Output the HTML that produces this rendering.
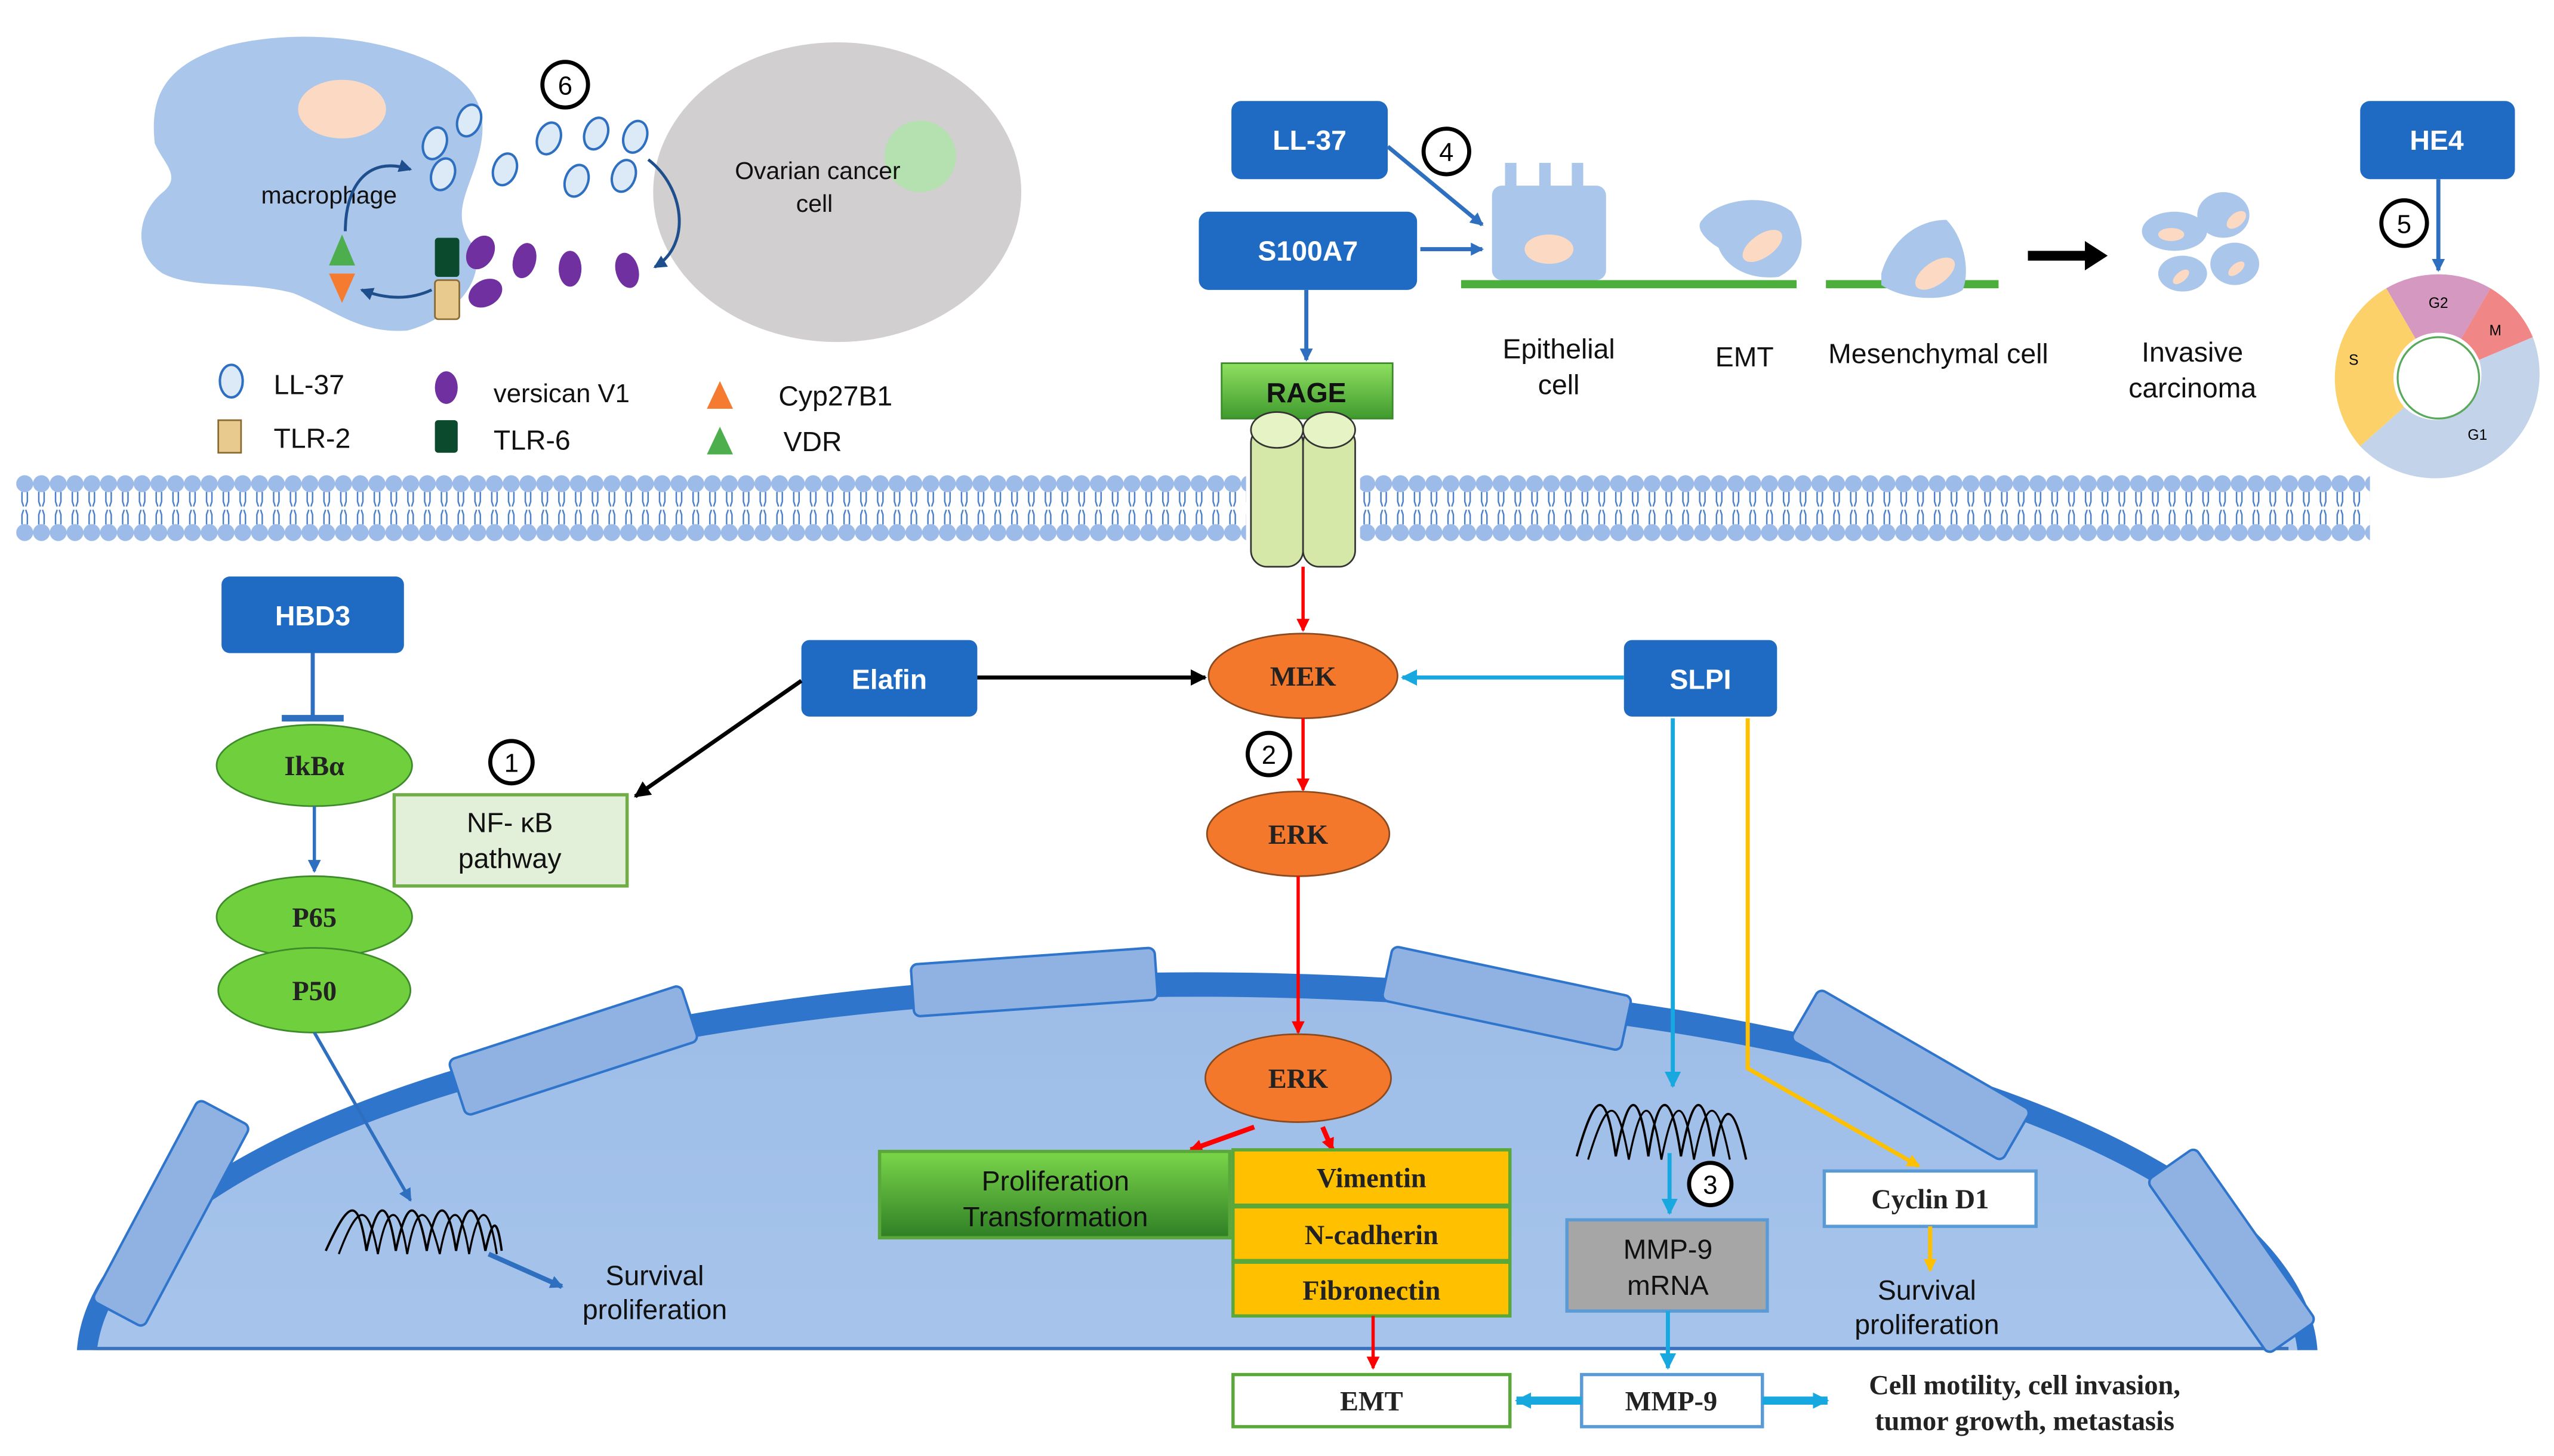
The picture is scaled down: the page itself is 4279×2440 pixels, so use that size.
<!DOCTYPE html>
<html><head><meta charset="utf-8"><style>
html,body{margin:0;padding:0;background:#fff;overflow:hidden;width:4279px;height:2440px;}
svg{display:block;}
text{font-family:"Liberation Sans",sans-serif;}
.bx{font-family:"Liberation Sans",sans-serif;font-weight:bold;fill:#fff;font-size:17px;text-anchor:middle;}
.sr{font-family:"Liberation Serif",serif;font-weight:bold;font-size:17px;text-anchor:middle;fill:#222;}
.lb{font-size:17px;text-anchor:middle;fill:#111;}
</style></head><body>
<svg width="4279" height="2440" viewBox="0 0 1568 894" preserveAspectRatio="none" xmlns="http://www.w3.org/2000/svg">
<defs>
<marker id="ab" markerWidth="8" markerHeight="8" refX="7" refY="4" orient="auto" markerUnits="userSpaceOnUse"><path d="M0,0 L8,4 L0,8z" fill="#2e6fc0"/></marker>
<marker id="ar" markerWidth="8" markerHeight="8" refX="7" refY="4" orient="auto" markerUnits="userSpaceOnUse"><path d="M0,0 L8,4 L0,8z" fill="#f00"/></marker>
<marker id="ak" markerWidth="10" markerHeight="10" refX="9" refY="5" orient="auto" markerUnits="userSpaceOnUse"><path d="M0,0 L10,5 L0,10z" fill="#000"/></marker>
<marker id="ac" markerWidth="10" markerHeight="10" refX="9" refY="5" orient="auto" markerUnits="userSpaceOnUse"><path d="M0,0 L10,5 L0,10z" fill="#18a8e0"/></marker>
<marker id="ay" markerWidth="8" markerHeight="8" refX="7" refY="4" orient="auto" markerUnits="userSpaceOnUse"><path d="M0,0 L8,4 L0,8z" fill="#ffc000"/></marker>
<marker id="an" markerWidth="8" markerHeight="8" refX="7" refY="4" orient="auto" markerUnits="userSpaceOnUse"><path d="M0,0 L8,4 L0,8z" fill="#1f4e8c"/></marker>
<pattern id="mem" x="10" y="288" width="10.3" height="48" patternUnits="userSpaceOnUse">
<circle cx="5.15" cy="9" r="5.2" fill="#9dbbe8"/>
<circle cx="5.15" cy="39" r="5.2" fill="#9dbbe8"/>
<path d="M3.5,14 L3.5,20 L4.5,23 M6.8,14 L6.8,20 L5.8,23 M3.5,34 L3.5,28 L4.5,25 M6.8,34 L6.8,28 L5.8,25" stroke="#4a7fc8" stroke-width="0.9" fill="none"/>
</pattern>
<linearGradient id="nuc" x1="0" y1="0" x2="0" y2="1"><stop offset="0" stop-color="#9dbde8"/><stop offset="0.6" stop-color="#a9c6ec"/><stop offset="1" stop-color="#cddff3"/></linearGradient>
<linearGradient id="gr" x1="0" y1="0" x2="0" y2="1"><stop offset="0" stop-color="#7bd64a"/><stop offset="1" stop-color="#2f7f25"/></linearGradient>
<linearGradient id="rg" x1="0" y1="0" x2="0" y2="1"><stop offset="0" stop-color="#8fe060"/><stop offset="1" stop-color="#3f9a2e"/></linearGradient>
<clipPath id="cb"><rect x="0" y="0" width="1568" height="829"/></clipPath>
</defs>

<!-- macrophage -->
<path d="M95,88 C92,60 100,40 140,28 C180,18 230,22 265,38 C290,50 300,65 295,90 C290,115 275,130 290,150 C300,170 280,195 250,203 C220,205 205,190 180,180 C150,172 120,178 100,168 C80,155 85,130 100,118 C112,108 100,100 95,88z" fill="#aac6ea"/>
<ellipse cx="210" cy="67" rx="27" ry="18" fill="#fcd9c2"/>
<text x="202" y="125" font-size="15" text-anchor="middle" fill="#111">macrophage</text>
<!-- ovarian -->
<ellipse cx="514" cy="118" rx="113" ry="92" fill="#d1cfd0"/>
<circle cx="565" cy="96" r="22" fill="#b5e0b0"/>
<text x="502" y="110" font-size="15" text-anchor="middle" fill="#111">Ovarian cancer</text>
<text x="500" y="130" font-size="15" text-anchor="middle" fill="#111">cell</text>
<circle cx="347" cy="52" r="14" fill="#fff" stroke="#000" stroke-width="2.5"/><text x="347" y="58" font-size="16" text-anchor="middle">6</text>
<g fill="#dce9f7" stroke="#2e6fc0" stroke-width="1.5">
<ellipse cx="288" cy="74" rx="7" ry="10" transform="rotate(20 288 74)"/>
<ellipse cx="267" cy="88" rx="7" ry="10" transform="rotate(20 267 88)"/>
<ellipse cx="272" cy="107" rx="7" ry="10" transform="rotate(20 272 107)"/>
<ellipse cx="310" cy="104" rx="7" ry="10" transform="rotate(20 310 104)"/>
<ellipse cx="337" cy="85" rx="7" ry="10" transform="rotate(20 337 85)"/>
<ellipse cx="366" cy="82" rx="7" ry="10" transform="rotate(20 366 82)"/>
<ellipse cx="390" cy="84" rx="7" ry="10" transform="rotate(20 390 84)"/>
<ellipse cx="354" cy="111" rx="7" ry="10" transform="rotate(20 354 111)"/>
<ellipse cx="383" cy="108" rx="7" ry="10" transform="rotate(20 383 108)"/>
</g>
<g fill="#7030a0">
<ellipse cx="295" cy="155" rx="8" ry="11" transform="rotate(30 295 155)"/>
<ellipse cx="322" cy="160" rx="7" ry="11" transform="rotate(15 322 160)"/>
<ellipse cx="350" cy="165" rx="7" ry="11"/>
<ellipse cx="385" cy="166" rx="7" ry="11" transform="rotate(-15 385 166)"/>
<ellipse cx="298" cy="180" rx="8" ry="11" transform="rotate(60 298 180)"/>
</g>
<rect x="267" y="146" width="15" height="24" rx="2" fill="#0b4a2d"/>
<rect x="267" y="172" width="15" height="24" rx="2" fill="#e8c98e" stroke="#8a6a30"/>
<path d="M210,144 L218,163 L202,163z" fill="#4cae4c"/>
<path d="M202,168 L218,168 L210,186z" fill="#f47b30"/>
<path d="M212,142 C212,115 225,95 252,104" stroke="#1f4e8c" stroke-width="1.8" fill="none" marker-end="url(#an)"/>
<path d="M265,178 C250,185 235,183 222,178" stroke="#1f4e8c" stroke-width="1.8" fill="none" marker-end="url(#an)"/>
<path d="M398,98 C420,115 425,150 402,164" stroke="#1f4e8c" stroke-width="1.8" fill="none" marker-end="url(#an)"/>
<!-- legend -->
<ellipse cx="142" cy="234" rx="7" ry="10" fill="#dce9f7" stroke="#2e6fc0" stroke-width="1.5"/>
<text x="168" y="242" font-size="17" fill="#111">LL-37</text>
<rect x="134" y="258" width="14" height="20" fill="#e8c98e" stroke="#8a6a30"/>
<text x="168" y="275" font-size="17" fill="#111">TLR-2</text>
<ellipse cx="274" cy="238" rx="7" ry="10" fill="#7030a0"/>
<text x="303" y="247" font-size="16" fill="#111">versican V1</text>
<rect x="267" y="258" width="14" height="20" rx="2" fill="#0b4a2d"/>
<text x="303" y="276" font-size="17" fill="#111">TLR-6</text>
<path d="M442,234 L450,251 L434,251z" fill="#f47b30"/>
<text x="478" y="249" font-size="17" fill="#111">Cyp27B1</text>
<path d="M442,262 L450,279 L434,279z" fill="#4cae4c"/>
<text x="481" y="277" font-size="17" fill="#111">VDR</text>

<!-- membrane -->
<rect x="10" y="288" width="755" height="48" fill="url(#mem)"/>
<rect x="835" y="288" width="620" height="48" fill="url(#mem)"/>

<!-- top right boxes -->
<rect x="756" y="62" width="96" height="48" rx="6" fill="#1f6bc4"/><text class="bx" x="804" y="92">LL-37</text>
<rect x="736" y="130" width="134" height="48" rx="6" fill="#1f6bc4"/><text class="bx" x="803" y="160">S100A7</text>
<rect x="1449" y="62" width="95" height="48" rx="6" fill="#1f6bc4"/><text class="bx" x="1496" y="92">HE4</text>
<circle cx="888" cy="93" r="14" fill="#fff" stroke="#000" stroke-width="2.5"/><text x="888" y="99" font-size="16" text-anchor="middle">4</text>
<circle cx="1476" cy="137" r="14" fill="#fff" stroke="#000" stroke-width="2.5"/><text x="1476" y="143" font-size="16" text-anchor="middle">5</text>
<line x1="852" y1="90" x2="910" y2="138" stroke="#2e6fc0" stroke-width="2.5" marker-end="url(#ab)"/>
<line x1="872" y1="153" x2="910" y2="153" stroke="#2e6fc0" stroke-width="2.5" marker-end="url(#ab)"/>
<line x1="802" y1="178" x2="802" y2="221" stroke="#2e6fc0" stroke-width="2.5" marker-end="url(#ab)"/>
<line x1="1497" y1="110" x2="1497" y2="166" stroke="#2e6fc0" stroke-width="2.5" marker-end="url(#ab)"/>
<rect x="897" y="172" width="206" height="5" fill="#4caf3c"/>
<rect x="1121" y="172" width="106" height="5" fill="#4caf3c"/>
<rect x="916" y="114" width="70" height="58" rx="6" fill="#aac6ea"/>
<rect x="924" y="100" width="7" height="16" fill="#aac6ea"/><rect x="945" y="100" width="7" height="16" fill="#aac6ea"/><rect x="965" y="100" width="7" height="16" fill="#aac6ea"/>
<ellipse cx="951" cy="153" rx="15" ry="9" fill="#fcd9c2"/>
<path d="M1045,135 C1055,122 1085,118 1100,130 C1110,145 1108,162 1092,170 C1075,172 1060,165 1055,152 C1048,148 1040,140 1045,135z" fill="#aac6ea"/>
<ellipse cx="1082" cy="151" rx="14" ry="7" transform="rotate(-35 1082 151)" fill="#fcd9c2"/>
<path d="M1155,168 C1160,150 1175,135 1195,135 C1205,145 1210,165 1205,178 C1195,185 1170,185 1155,175z" fill="#aac6ea"/>
<ellipse cx="1188" cy="168" rx="14" ry="7" transform="rotate(-35 1188 168)" fill="#fcd9c2"/>
<line x1="1245" y1="157" x2="1282" y2="157" stroke="#000" stroke-width="6"/><path d="M1280,148 L1294,157 L1280,166z" fill="#000"/>
<g fill="#aac6ea"><ellipse cx="1335" cy="142" rx="20" ry="12"/><ellipse cx="1365" cy="132" rx="16" ry="14"/><ellipse cx="1340" cy="168" rx="15" ry="11"/><ellipse cx="1372" cy="162" rx="15" ry="13"/></g>
<g fill="#fcd9c2"><ellipse cx="1333" cy="144" rx="8" ry="4"/><ellipse cx="1373" cy="135" rx="7" ry="4" transform="rotate(-40 1373 135)"/><ellipse cx="1339" cy="170" rx="6" ry="3" transform="rotate(-40 1339 170)"/><ellipse cx="1373" cy="165" rx="6" ry="3" transform="rotate(-40 1373 165)"/></g>
<text class="lb" x="957" y="220">Epithelial</text><text class="lb" x="957" y="242">cell</text>
<text class="lb" x="1071" y="225">EMT</text>
<text class="lb" x="1190" y="223">Mesenchymal cell</text>
<text class="lb" x="1346" y="222">Invasive</text><text class="lb" x="1346" y="244">carcinoma</text>
<g transform="translate(1497,232)">
<path d="M-32,-55 A64,64 0 0 1 32,-55 L14,-24 A28,28 0 0 0 -14,-24z" fill="#d598c0"/>
<path d="M32,-55 A64,64 0 0 1 58,-25 L25,-11 A28,28 0 0 0 14,-24z" fill="#f08686"/>
<path d="M58,-25 A64,64 0 0 1 -48,42 L-21,18 A28,28 0 0 0 25,-11z" fill="#c3d3ea"/>
<path d="M-48,42 A64,64 0 0 1 -32,-55 L-14,-24 A28,28 0 0 0 -21,18z" fill="#fdd16a"/>
<circle r="25" fill="#fff" stroke="#5aa85a" stroke-width="1.2"/>
<text x="0" y="-43" font-size="9" text-anchor="middle">G2</text>
<text x="35" y="-26" font-size="9" text-anchor="middle">M</text>
<text x="-52" y="-8" font-size="9" text-anchor="middle">S</text>
<text x="24" y="38" font-size="9" text-anchor="middle">G1</text>
</g>
<rect x="750" y="223" width="105" height="34" fill="url(#rg)" stroke="#3a8a2a"/>
<text x="802" y="247" font-size="17" font-weight="bold" text-anchor="middle" fill="#111">RAGE</text>
<rect x="768" y="262" width="32" height="86" rx="10" fill="#d5e8a8" stroke="#333"/>
<rect x="800" y="262" width="32" height="86" rx="10" fill="#d5e8a8" stroke="#333"/>
<ellipse cx="784" cy="264" rx="16" ry="11" fill="#e6f3c4" stroke="#333"/>
<ellipse cx="816" cy="264" rx="16" ry="11" fill="#e6f3c4" stroke="#333"/>

<!-- nucleus -->
<g clip-path="url(#cb)">
<ellipse cx="735" cy="835" rx="688" ry="238" fill="#2f75cc"/>
<ellipse cx="735" cy="838" rx="676" ry="226" fill="url(#nuc)"/>
</g>
<line x1="57" y1="828" x2="1405" y2="828" stroke="#3a72c0" stroke-width="2"/>
<g fill="#8fb2e2" stroke="#2f75cc" stroke-width="1.5">
<rect x="-70" y="-18" width="140" height="36" rx="4" transform="translate(105,745) rotate(-62)"/>
<rect x="-75" y="-18" width="150" height="36" rx="4" transform="translate(352,645) rotate(-18)"/>
<rect x="-75" y="-16" width="150" height="32" rx="4" transform="translate(635,603) rotate(-4)"/>
<rect x="-75" y="-17" width="150" height="34" rx="4" transform="translate(925,613) rotate(12)"/>
<rect x="-75" y="-18" width="150" height="36" rx="4" transform="translate(1173,660) rotate(30)"/>
<rect x="-65" y="-18" width="130" height="36" rx="4" transform="translate(1370,768) rotate(55)"/>
</g>

<!-- left pathway -->
<rect x="136" y="354" width="112" height="47" rx="5" fill="#1f6bc4"/><text class="bx" x="192" y="384">HBD3</text>
<line x1="192" y1="401" x2="192" y2="441" stroke="#2e6fc0" stroke-width="2.5"/>
<line x1="173" y1="441" x2="211" y2="441" stroke="#2e6fc0" stroke-width="4"/>
<ellipse cx="193" cy="470" rx="60" ry="25" fill="#6fcf3c" stroke="#3d8a2a"/>
<text class="sr" x="193" y="476">IkBα</text>
<line x1="193" y1="495" x2="193" y2="535" stroke="#2e6fc0" stroke-width="2" marker-end="url(#ab)"/>
<ellipse cx="193" cy="563" rx="60" ry="25" fill="#6fcf3c" stroke="#3d8a2a"/>
<text class="sr" x="193" y="569">P65</text>
<ellipse cx="193" cy="608" rx="59" ry="26" fill="#6fcf3c" stroke="#3d8a2a"/>
<text class="sr" x="193" y="614">P50</text>
<rect x="242" y="488" width="143" height="56" fill="#e2f0d9" stroke="#70ad47" stroke-width="2"/>
<text class="lb" x="313" y="511">NF- κB</text><text class="lb" x="313" y="533">pathway</text>
<circle cx="314" cy="468" r="13" fill="#fff" stroke="#000" stroke-width="2.5"/><text x="314" y="474" font-size="16" text-anchor="middle">1</text>
<line x1="193" y1="634" x2="252" y2="737" stroke="#2e6fc0" stroke-width="2" marker-end="url(#ab)"/>
<path d="M200,768 C215,735 220,735 225,768 C232,735 238,735 243,768 C250,735 256,735 262,768 C268,735 275,735 280,768 C286,735 292,735 298,768 C302,750 305,745 308,768" stroke="#000" stroke-width="1.4" fill="none"/>
<path d="M208,770 C220,738 226,738 232,770 C238,738 245,738 250,770 C256,738 262,738 270,770 C276,738 283,738 288,770 C294,738 300,738 305,770" stroke="#000" stroke-width="1.2" fill="none"/>
<line x1="300" y1="770" x2="345" y2="790" stroke="#2e6fc0" stroke-width="3" marker-end="url(#ab)"/>
<text class="lb" x="402" y="789">Survival</text><text class="lb" x="402" y="810">proliferation</text>

<!-- center -->
<rect x="492" y="393" width="108" height="47" rx="5" fill="#1f6bc4"/><text class="bx" x="546" y="423">Elafin</text>
<line x1="600" y1="416" x2="740" y2="416" stroke="#000" stroke-width="2.5" marker-end="url(#ak)"/>
<line x1="492" y1="418" x2="390" y2="489" stroke="#000" stroke-width="2.5" marker-end="url(#ak)"/>
<rect x="997" y="393" width="94" height="47" rx="5" fill="#1f6bc4"/><text class="bx" x="1044" y="423">SLPI</text>
<line x1="997" y1="416" x2="861" y2="416" stroke="#18a8e0" stroke-width="2.5" marker-end="url(#ac)"/>
<line x1="800" y1="348" x2="800" y2="387" stroke="#f00" stroke-width="2" marker-end="url(#ar)"/>
<ellipse cx="800" cy="415" rx="58" ry="26" fill="#f4782c" stroke="#8a4a20"/>
<text class="sr" x="800" y="421">MEK</text>
<line x1="800" y1="441" x2="800" y2="485" stroke="#f00" stroke-width="2" marker-end="url(#ar)"/>
<circle cx="779" cy="463" r="13" fill="#fff" stroke="#000" stroke-width="2.5"/><text x="779" y="469" font-size="16" text-anchor="middle">2</text>
<ellipse cx="797" cy="512" rx="56" ry="26" fill="#f4782c" stroke="#8a4a20"/>
<text class="sr" x="797" y="518">ERK</text>
<line x1="797" y1="538" x2="797" y2="634" stroke="#f00" stroke-width="2" marker-end="url(#ar)"/>
<ellipse cx="797" cy="662" rx="57" ry="27" fill="#f4782c" stroke="#8a4a20"/>
<text class="sr" x="797" y="668">ERK</text>
<line x1="770" y1="692" x2="731" y2="706" stroke="#f00" stroke-width="3" marker-end="url(#ar)"/>
<line x1="812" y1="692" x2="818" y2="706" stroke="#f00" stroke-width="3" marker-end="url(#ar)"/>
<rect x="540" y="707" width="215" height="53" fill="url(#gr)" stroke="#5aa83a" stroke-width="2"/>
<text class="lb" x="648" y="731" fill="#111">Proliferation</text><text class="lb" x="648" y="753">Transformation</text>
<g fill="#ffc000" stroke="#5aa83a" stroke-width="2">
<rect x="757" y="706" width="170" height="34"/><rect x="757" y="741" width="170" height="33"/><rect x="757" y="775" width="170" height="33"/>
</g>
<text class="sr" x="842" y="729">Vimentin</text>
<text class="sr" x="842" y="764">N-cadherin</text>
<text class="sr" x="842" y="798">Fibronectin</text>
<line x1="843" y1="808" x2="843" y2="840" stroke="#f00" stroke-width="2" marker-end="url(#ar)"/>
<rect x="757" y="844" width="170" height="32" fill="#fff" stroke="#5aa83a" stroke-width="2"/>
<text class="sr" x="842" y="866">EMT</text>

<!-- right -->
<line x1="1027" y1="441" x2="1027" y2="667" stroke="#18a8e0" stroke-width="2.5" marker-end="url(#ac)"/>
<polyline points="1073,441 1073,656 1178,716" stroke="#ffc000" stroke-width="2.5" fill="none" marker-end="url(#ay)"/>
<path d="M968,710 C980,668 986,668 992,710 C1000,668 1006,668 1012,710 C1018,668 1026,668 1032,710 C1040,668 1046,668 1052,710 C1058,675 1064,675 1072,712" stroke="#000" stroke-width="1.4" fill="none"/>
<path d="M975,712 C987,672 993,672 1000,712 C1008,672 1014,672 1020,712 C1028,672 1034,672 1040,712 C1048,672 1054,672 1062,712" stroke="#000" stroke-width="1.2" fill="none"/>
<line x1="1025" y1="708" x2="1025" y2="745" stroke="#18a8e0" stroke-width="2.5" marker-end="url(#ac)"/>
<circle cx="1050" cy="727" r="13" fill="#fff" stroke="#000" stroke-width="2.5"/><text x="1050" y="733" font-size="16" text-anchor="middle">3</text>
<rect x="962" y="749" width="123" height="56" fill="#a6a6a6" stroke="#5b9bd5" stroke-width="2"/>
<text class="lb" x="1024" y="773">MMP-9</text><text class="lb" x="1024" y="795">mRNA</text>
<rect x="1120" y="719" width="130" height="34" fill="#fff" stroke="#5b9bd5" stroke-width="2"/>
<text class="sr" x="1185" y="742">Cyclin D1</text>
<line x1="1185" y1="753" x2="1185" y2="780" stroke="#ffc000" stroke-width="2.5" marker-end="url(#ay)"/>
<text class="lb" x="1183" y="798">Survival</text><text class="lb" x="1183" y="819">proliferation</text>
<line x1="1024" y1="805" x2="1024" y2="840" stroke="#18a8e0" stroke-width="2.5" marker-end="url(#ac)"/>
<rect x="971" y="844" width="111" height="32" fill="#fff" stroke="#5b9bd5" stroke-width="2"/>
<text class="sr" x="1026" y="866">MMP-9</text>
<line x1="971" y1="860" x2="931" y2="860" stroke="#18a8e0" stroke-width="5" marker-end="url(#ac)"/>
<line x1="1082" y1="860" x2="1122" y2="860" stroke="#18a8e0" stroke-width="5" marker-end="url(#ac)"/>
<text class="sr" x="1243" y="856">Cell motility, cell invasion,</text>
<text class="sr" x="1243" y="878">tumor growth, metastasis</text>
</svg>
</body></html>
